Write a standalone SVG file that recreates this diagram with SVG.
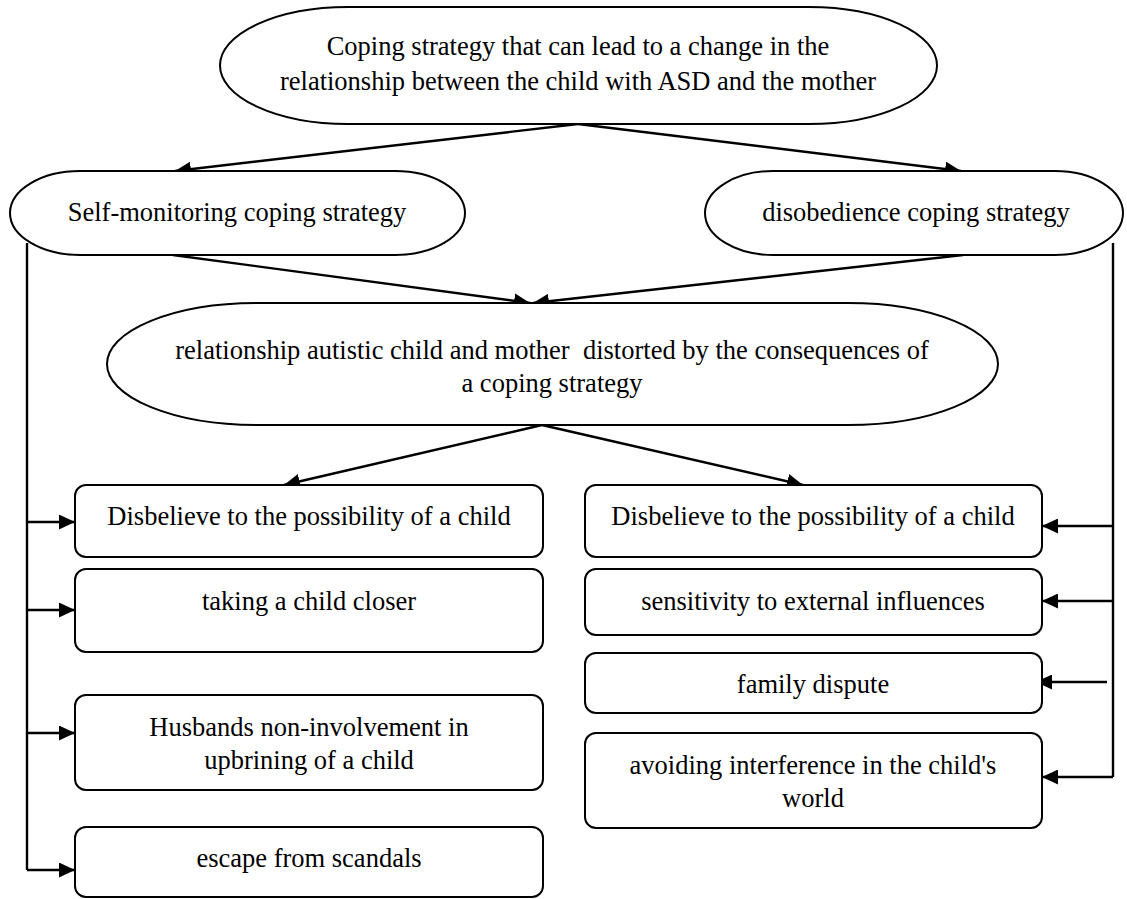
<svg xmlns="http://www.w3.org/2000/svg" width="1127" height="899" viewBox="0 0 1127 899">
<style>
.n{fill:#fff;stroke:#000;stroke-width:2}
.t{font-family:"Liberation Serif","Times New Roman",serif;font-size:26.5px;fill:#000;text-anchor:middle}
.c{fill:none;stroke:#000;stroke-width:2.4}
.a{marker-end:url(#ah)}
</style>
<defs>
<marker id="ah" markerUnits="userSpaceOnUse" markerWidth="17" markerHeight="15" refX="16" refY="7.5" orient="auto">
<path d="M0,0 L16,7.5 L0,15 z" fill="#000"/>
</marker>
</defs>
<rect width="1127" height="899" fill="#fff"/>
<g id="connectors">
<path class="c a" d="M578,124 L175,171"/>
<path class="c a" d="M578,124 L961,171"/>
<path class="c a" d="M173,255 L530,303"/>
<path class="c a" d="M963,255 L533,303"/>
<path class="c a" d="M542,425 L284,485"/>
<path class="c a" d="M542,425 L803,485"/>
<path class="c" d="M27,243 V870"/>
<path class="c a" d="M27,522 H75"/>
<path class="c a" d="M27,610 H75"/>
<path class="c a" d="M27,733 H75"/>
<path class="c a" d="M27,870 H75"/>
<path class="c" d="M1113,243 V777"/>
<path class="c a" d="M1113,526 H1042"/>
<path class="c a" d="M1113,601 H1042"/>
<path class="c a" d="M1107,682 H1036"/>
<path class="c a" d="M1113,777 H1042"/>
</g>
<g id="top">
<rect class="n" x="220" y="7" width="717" height="117" rx="128" ry="58.5"/>
<text class="t" x="578" y="55">Coping strategy that can lead to a change in the</text>
<text class="t" x="578" y="90">relationship between the child with ASD and the mother</text>
</g>
<g id="self">
<rect class="n" x="10" y="171" width="455" height="84" rx="70" ry="42"/>
<text class="t" x="237" y="221">Self-monitoring coping strategy</text>
</g>
<g id="disobedience">
<rect class="n" x="705" y="171" width="418" height="84" rx="68" ry="42"/>
<text class="t" x="916" y="221">disobedience coping strategy</text>
</g>
<g id="middle">
<rect class="n" x="107" y="303" width="891" height="122" rx="150" ry="61"/>
<text class="t" x="552" y="359" xml:space="preserve">relationship autistic child and mother  distorted by the consequences of</text>
<text class="t" x="552" y="392">a coping strategy</text>
</g>
<g id="l1">
<rect class="n" x="75" y="485" width="468" height="72" rx="11"/>
<text class="t" x="309" y="525">Disbelieve to the possibility of a child</text>
</g>
<g id="l2">
<rect class="n" x="75" y="569" width="468" height="83" rx="11"/>
<text class="t" x="309" y="610">taking a child closer</text>
</g>
<g id="l3">
<rect class="n" x="75" y="695" width="468" height="95" rx="11"/>
<text class="t" x="309" y="736">Husbands non-involvement in</text>
<text class="t" x="309" y="769">upbrining of a child</text>
</g>
<g id="l4">
<rect class="n" x="75" y="827" width="468" height="70" rx="11"/>
<text class="t" x="309" y="867">escape from scandals</text>
</g>
<g id="r1">
<rect class="n" x="585" y="485" width="457" height="72" rx="11"/>
<text class="t" x="813" y="525">Disbelieve to the possibility of a child</text>
</g>
<g id="r2">
<rect class="n" x="585" y="569" width="457" height="66" rx="11"/>
<text class="t" x="813" y="610">sensitivity to external influences</text>
</g>
<g id="r3">
<rect class="n" x="585" y="653" width="457" height="60" rx="11"/>
<text class="t" x="813" y="693">family dispute</text>
</g>
<g id="r4">
<rect class="n" x="585" y="733" width="457" height="95" rx="11"/>
<text class="t" x="813" y="774">avoiding interference in the child's</text>
<text class="t" x="813" y="807">world</text>
</g>
</svg>
